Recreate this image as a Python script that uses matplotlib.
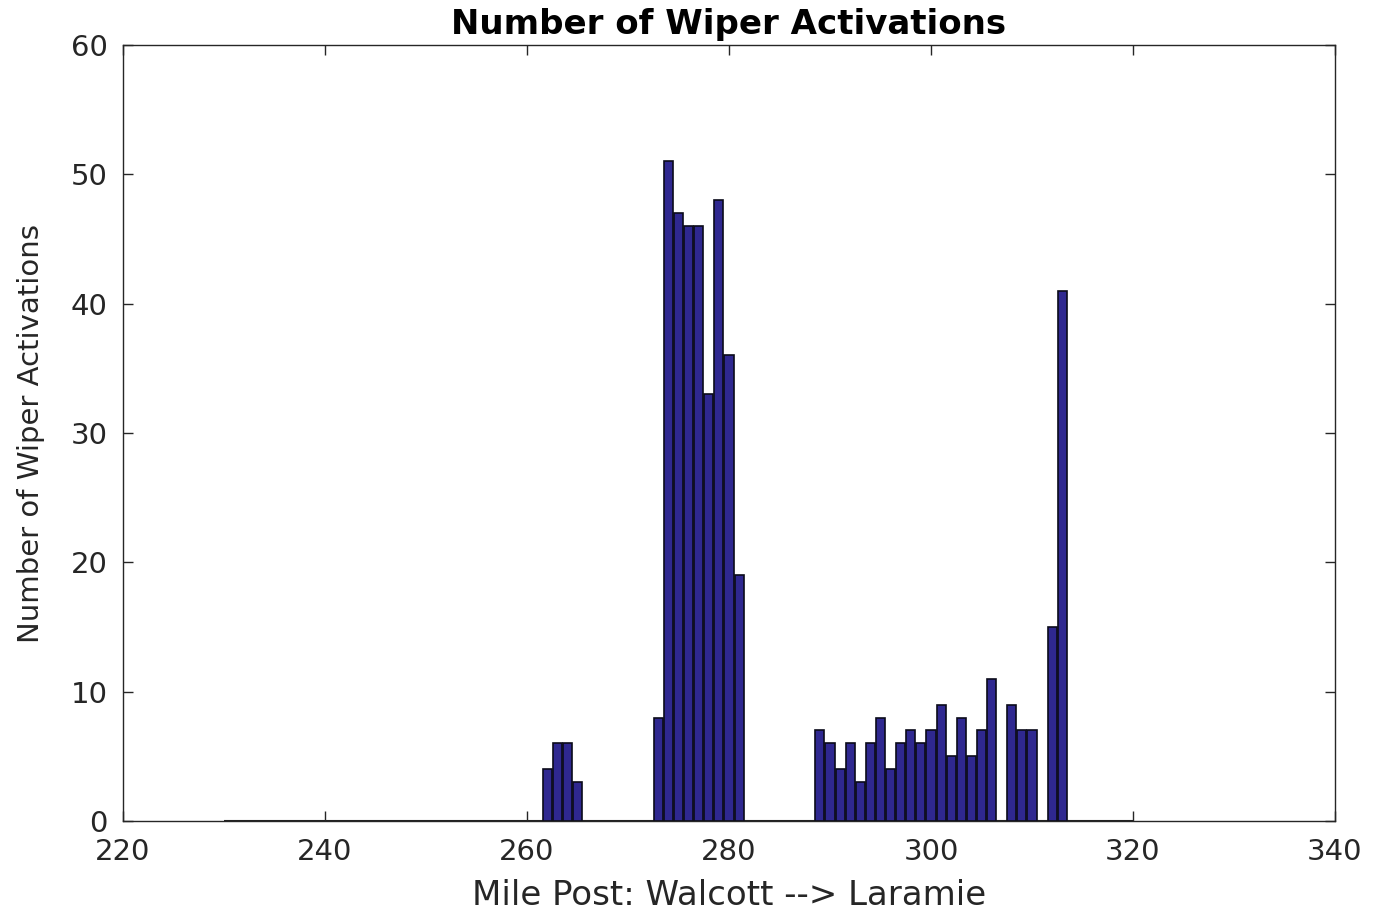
import matplotlib
matplotlib.use("Agg")
import matplotlib.pyplot as plt

# mile posts with wiper activations (non-zero counts)
mile_posts = [262, 263, 264, 265,
              273, 274, 275, 276, 277, 278, 279, 280, 281,
              289, 290, 291, 292, 293, 294, 295, 296, 297, 298, 299,
              300, 301, 302, 303, 304, 305, 306,
              308, 309, 310, 312, 313]
activations = [4, 6, 6, 3,
               8, 51, 47, 46, 46, 33, 48, 36, 19,
               7, 6, 4, 6, 3, 6, 8, 4, 6, 7, 6,
               7, 9, 5, 8, 5, 7, 11,
               9, 7, 7, 15, 41]
route_start, route_end = 230, 320

x_ticks = [220, 240, 260, 280, 300, 320, 340]
y_ticks = [0, 10, 20, 30, 40, 50, 60]

plt.rcParams['font.family'] = ['DejaVu Sans']

fig = plt.figure(figsize=(13.73, 9.15), dpi=100)
ax = fig.add_axes([0.0896, 0.1027, 0.8827, 0.8481])

ax.hlines(0, route_start, route_end, color='#222222', lw=1.5, zorder=1)
ax.bar(mile_posts, activations, width=0.9, color='#2f2890',
       edgecolor='#0a0a1a', linewidth=1.2, zorder=2)

ax.set_xlim(220, 340)
ax.set_ylim(0, 60)
ax.set_xticks(x_ticks)
ax.set_yticks(y_ticks)
ax.tick_params(direction='in', top=True, right=True, length=7, width=1,
               labelsize=21, colors='#262626')
ax.tick_params(axis='x', pad=12)
ax.tick_params(axis='y', pad=11)
for s in ax.spines.values():
    s.set_color('#262626')
    s.set_linewidth(1)

ax.set_title('Number of Wiper Activations', fontsize=24.5, fontweight='bold', pad=8)
ax.set_xlabel('Mile Post: Walcott --> Laramie', fontsize=24.5, color='#262626')
ax.set_ylabel('Number of Wiper Activations', fontsize=21, color='#262626')
ax.xaxis.set_label_coords(0.5, -0.075)
ax.yaxis.set_label_coords(-0.064, 0.5)

fig.savefig('out.png', dpi=100)
